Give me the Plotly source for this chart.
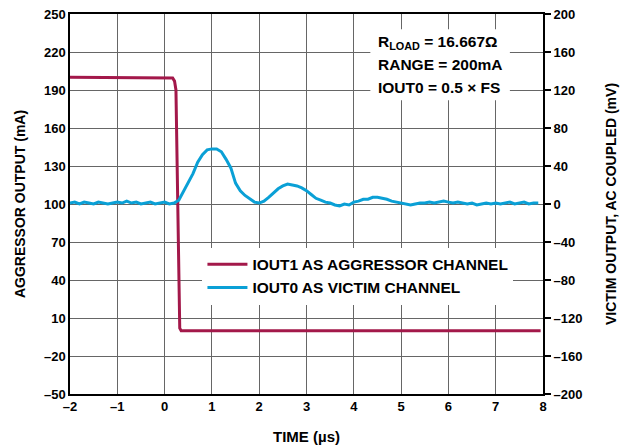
import plotly.graph_objects as go

# Aggressor channel (IOUT1), mA on the left axis
agg_t = [-2.0, 0.10, 0.17, 0.21, 0.24, 0.32, 0.35, 7.95]
agg_ma = [200, 200, 199.5, 197, 190, 2, 0, 0]

# Victim channel (IOUT0), AC coupled, mV on the right axis
vic_t = [round(-2.0 + 0.1 * i, 1) for i in range(100)]
vic_mv = [
    1, 2, 0, 2, 1, 0, 2, 1, 0, 1,
    2, 1, 3, 1, 2, 0, 1, 2, 0, 1,
    2, 0, 1, 4, 13, 22, 32, 44, 52, 57,
    58, 58, 55, 47, 38, 22, 14, 9, 5, 2,
    1, 3, 7, 12, 16, 19, 21, 20, 19, 17,
    14, 10, 6, 4, 2, 1, -1, -2, 0, -1,
    2, 3, 5, 5, 7, 7, 6, 5, 3, 2,
    1, 0, -1, 0, 1, 1, 2, 1, 2, 3,
    2, 1, 2, 1, 0, 1, -1, 0, 1, 0,
    1, 0, 1, 2, 0, 1, 2, 0, 1, 1,
]

x_ticks = [-2, -1, 0, 1, 2, 3, 4, 5, 6, 7, 8]
left_ticks = [-50, -20, 10, 40, 70, 100, 130, 160, 190, 220, 250]
right_ticks = [-200, -160, -120, -80, -40, 0, 40, 80, 120, 160, 200]

AGG_COLOR = "#A3184A"
VIC_COLOR = "#0AA0D6"
GRID = "#666666"
FONT = dict(family="Liberation Sans, Arial, sans-serif", size=13, color="black", weight="bold")


def dash_minus(vals):
    return [str(v).replace("-", "–") for v in vals]


fig = go.Figure()
fig.add_trace(go.Scatter(
    x=agg_t, y=agg_ma, mode="lines", name="IOUT1 AS AGGRESSOR CHANNEL",
    line=dict(color=AGG_COLOR, width=3), yaxis="y",
))
fig.add_trace(go.Scatter(
    x=vic_t, y=vic_mv, mode="lines", name="IOUT0 AS VICTIM CHANNEL",
    line=dict(color=VIC_COLOR, width=3), yaxis="y2",
))

# White panel behind the test-condition text
fig.add_shape(type="rect", xref="x", yref="y", x0=4.35, x1=7.3, y0=182, y1=238,
              fillcolor="white", line=dict(width=0), layer="between")

notes = ["R<sub>LOAD</sub> = 16.667Ω", "RANGE = 200mA", "IOUT0 = 0.5 × FS"]
for i, txt in enumerate(notes):
    fig.add_annotation(text=txt, xref="x", yref="y", x=4.47, y=227.5 - i * 17.7,
                       xanchor="left", yanchor="middle", showarrow=False,
                       font=dict(FONT, size=15.5))

fig.update_layout(
    width=637, height=448,
    margin=dict(l=70, r=94, t=14, b=54),
    plot_bgcolor="white", paper_bgcolor="white",
    font=FONT,
    showlegend=True,
    legend=dict(x=0.28, y=0.385, xanchor="left", yanchor="top",
                bgcolor="white", borderwidth=0, font=dict(FONT, size=15.5),
                tracegroupgap=0, itemwidth=40),
    xaxis=dict(range=[-2, 8], tickvals=x_ticks, ticktext=dash_minus(x_ticks),
               showgrid=True, gridcolor=GRID, gridwidth=1,
               showline=True, linecolor="black", linewidth=1.5, mirror=True,
               ticks="", zeroline=False, automargin=False,
               title=dict(text="TIME (µs)", font=dict(FONT, size=15), standoff=18)),
    yaxis=dict(range=[-50, 250], tickvals=left_ticks, ticktext=dash_minus(left_ticks),
               showgrid=True, gridcolor=GRID, gridwidth=1,
               showline=True, linecolor="black", linewidth=1.5, mirror=True,
               ticks="", zeroline=False, automargin=False,
               title=dict(text="AGGRESSOR OUTPUT (mA)", font=dict(FONT, size=14), standoff=15)),
    yaxis2=dict(range=[-200, 200], tickvals=right_ticks, ticktext=dash_minus(right_ticks),
                overlaying="y", side="right", showgrid=False, zeroline=False,
                showline=False, ticks="outside", ticklen=7, tickcolor="black",
                tickwidth=1.5, automargin=False,
                title=dict(text="VICTIM OUTPUT, AC COUPLED (mV)", font=dict(FONT, size=14), standoff=24)),
)

fig.write_html("out.html")
